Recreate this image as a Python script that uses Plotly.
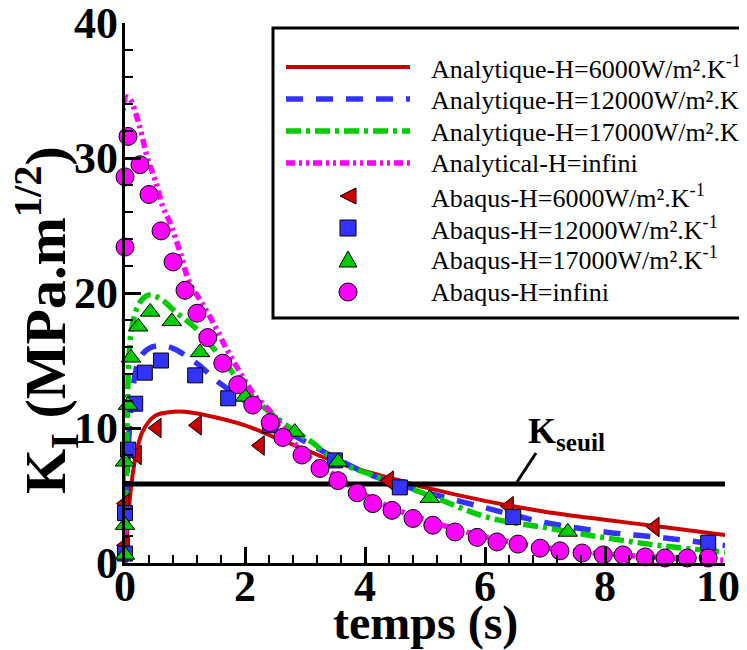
import plotly.graph_objects as go

# ---------------- data ----------------
# Analytical curves
t_ana_6000 = [0, 0.05, 0.1, 0.2, 0.3, 0.5, 0.8, 1.0, 1.5, 2.0, 2.5, 3.0, 3.5, 4.0, 4.5, 5.0, 6.0, 7.0, 8.0, 9.0, 10.0]
k_ana_6000 = [0, 3.0, 5.6, 8.4, 9.8, 10.9, 11.2, 11.2, 10.8, 10.2, 9.3, 8.4, 7.5, 6.8, 6.2, 5.6, 4.6, 3.8, 3.2, 2.65, 2.07]

t_ana_12000 = [0, 0.03, 0.08, 0.15, 0.25, 0.4, 0.6, 0.8, 1.0, 1.25, 1.5, 2.0, 2.5, 3.0, 3.5, 4.0, 4.5, 5.0, 6.0, 7.0, 8.0, 9.0, 10.0]
k_ana_12000 = [0, 6.0, 10.4, 13.5, 15.2, 15.9, 16.1, 15.9, 15.4, 14.6, 13.6, 12.0, 10.3, 9.0, 7.8, 6.7, 5.9, 5.25, 4.1, 3.0, 2.3, 1.85, 1.3]

t_ana_17000 = [0, 0.03, 0.07, 0.11, 0.2, 0.3, 0.4, 0.58, 0.87, 1.2, 1.53, 1.87, 2.25, 2.75, 3.13, 3.5, 4.13, 5.08, 6.03, 7.03, 8.03, 8.97, 10.0]
k_ana_17000 = [0, 9.0, 15.6, 17.3, 18.9, 19.6, 19.85, 19.6, 18.5, 17.3, 15.6, 13.7, 11.8, 10.0, 8.9, 7.6, 6.5, 5.0, 3.4, 2.6, 1.85, 1.26, 0.8]

t_ana_inf = [0, 0.02, 0.08, 0.2, 0.28, 0.38, 0.5, 0.63, 0.75, 0.92, 1.08, 1.25, 1.47, 1.7, 1.92, 2.13, 2.47, 2.92, 3.37, 3.97, 4.5, 5.08, 5.6, 6.2, 7.3, 8.4, 10.0]
k_ana_inf = [0, 34.5, 34.4, 33.0, 31.7, 29.9, 28.4, 26.4, 25.2, 23.0, 20.7, 19.5, 17.8, 15.8, 14.1, 12.6, 11.0, 8.4, 6.9, 5.1, 4.0, 3.1, 2.4, 1.75, 0.96, 0.55, 0.2]

# Abaqus results
t_abq_6000 = [0, 0, 0.2, 0.53, 1.2, 2.25, 4.4, 6.4, 8.83]
k_abq_6000 = [1.3, 4.4, 8.0, 10.0, 10.2, 8.7, 6.1, 4.2, 2.67]

t_abq_12000 = [0, 0, 0.05, 0.17, 0.33, 0.6, 1.17, 1.72, 2.42, 3.5, 4.58, 6.47, 9.72]
k_abq_12000 = [0.7, 3.7, 8.4, 11.8, 14.1, 15.0, 13.9, 12.2, 10.2, 7.6, 5.6, 3.4, 1.5]

t_abq_17000 = [0, 0, 0, 0.05, 0.1, 0.22, 0.42, 0.78, 1.25, 2.0, 2.83, 3.55, 5.08, 7.38]
k_abq_17000 = [0.6, 2.8, 7.5, 11.7, 15.2, 17.5, 18.6, 17.9, 15.6, 12.3, 9.7, 7.5, 4.8, 2.3]

t_abq_inf = [0, 0, 0.05, 0.25, 0.4, 0.6, 0.8, 1.0, 1.2, 1.38, 1.63, 1.88, 2.13, 2.42, 2.63, 2.95, 3.25, 3.55,
             3.87, 4.13, 4.45, 4.8, 5.13, 5.5, 5.87, 6.2, 6.55, 6.92, 7.25, 7.62, 7.97, 8.3, 8.67, 9.0, 9.37, 9.72]
k_abq_inf = [23.4, 28.6, 31.6, 29.5, 27.3, 24.6, 22.3, 20.2, 18.5, 16.7, 14.8, 13.2, 11.7, 10.4, 9.3, 8.0, 7.0, 6.1,
             5.2, 4.4, 3.9, 3.3, 2.8, 2.3, 1.9, 1.56, 1.4, 1.1, 0.9, 0.74, 0.6, 0.6, 0.45, 0.37, 0.37, 0.37]

K_SEUIL = 5.85
t_seuil = [0, 10]

names = [
    "Analytique-H=6000W/m².K<sup>-1</sup>",
    "Analytique-H=12000W/m².K<sup>-1</sup>",
    "Analytique-H=17000W/m².K<sup>-1</sup>",
    "Analytical-H=infini",
    "Abaqus-H=6000W/m².K<sup>-1</sup>",
    "Abaqus-H=12000W/m².K<sup>-1</sup>",
    "Abaqus-H=17000W/m².K<sup>-1</sup>",
    "Abaqus-H=infini",
]

x_ticks = [0, 2, 4, 6, 8, 10]
y_ticks = [0, 10, 20, 30, 40]
x_title = "temps (s)"
y_title = "K<sub>I</sub> (MPa.m<sup>1/2</sup>)"

# ---------------- style ----------------
RED, BLUE, GREEN, MAG = "#CC0000", "#3333FF", "#00CC00", "#FF00FF"
SERIF = "Liberation Serif"
OFF = 8                      # default page body margin
W, H = 747 - OFF, 650 - OFF
ML, MT = 125 - OFF, 23 - OFF
PW, PH = 600, 540
MR, MB = W - ML - PW, H - MT - PH

def px(x):  # page pixel -> paper x
    return (x - OFF - ML) / PW

def py(y):  # page pixel -> paper y
    return (MT + PH - (y - OFF)) / PH

line_styles = [
    dict(color=RED, width=4, dash="solid"),
    dict(color=BLUE, width=5.5, dash="17px,13px"),
    dict(color=GREEN, width=5.5, dash="15px,5px,4px,5px"),
    dict(color=MAG, width=5.5, dash="9px,4px,3px,4px,3px,4px"),
]
marker_styles = [
    dict(symbol="triangle-left", size=17, color=RED, line=dict(color="black", width=1)),
    dict(symbol="square", size=15, color=BLUE, line=dict(color="black", width=1)),
    dict(symbol="triangle-up", size=17, color=GREEN, line=dict(color="black", width=1)),
    dict(symbol="circle", size=18, color=MAG, line=dict(color="black", width=1)),
]

fig = go.Figure()
ana = [(t_ana_6000, k_ana_6000), (t_ana_12000, k_ana_12000), (t_ana_17000, k_ana_17000), (t_ana_inf, k_ana_inf)]
abq = [(t_abq_6000, k_abq_6000), (t_abq_12000, k_abq_12000), (t_abq_17000, k_abq_17000), (t_abq_inf, k_abq_inf)]

for i, (t, k) in enumerate(ana):
    fig.add_trace(go.Scatter(x=t, y=k, mode="lines", line=line_styles[i], line_shape="spline",
                             name=names[i], showlegend=False, cliponaxis=False))

fig.add_trace(go.Scatter(x=t_seuil, y=[K_SEUIL] * len(t_seuil), mode="lines",
                         line=dict(color="black", width=5), showlegend=False, cliponaxis=False))

for i, (t, k) in enumerate(abq):
    fig.add_trace(go.Scatter(x=t, y=k, mode="markers", marker=marker_styles[i],
                             name=names[4 + i], showlegend=False, cliponaxis=False))

# ---------------- custom legend ----------------
shapes = []
annotations = []
shapes.append(dict(type="rect", xref="paper", yref="paper", x0=px(273), x1=px(770), y0=py(318), y1=py(28),
                   line=dict(color="black", width=3), fillcolor="white", layer="above"))
row_y = [67, 99, 131, 163, 196, 228, 259, 292]
for i in range(4):
    st = line_styles[i]
    shapes.append(dict(type="line", xref="paper", yref="paper", x0=px(286), x1=px(410),
                       y0=py(row_y[i]), y1=py(row_y[i]),
                       line=dict(color=st["color"], width=st["width"], dash=st["dash"]), layer="above"))
mx = 348
for i in range(4):
    yc = row_y[4 + i]
    col = marker_styles[i]["color"]
    if i == 0:
        path = f"M {px(mx-8)} {py(yc)} L {px(mx+8)} {py(yc-8)} L {px(mx+8)} {py(yc+8)} Z"
        shapes.append(dict(type="path", xref="paper", yref="paper", path=path, fillcolor=col,
                           line=dict(color="black", width=1), layer="above"))
    elif i == 1:
        shapes.append(dict(type="rect", xref="paper", yref="paper", x0=px(mx-8), x1=px(mx+8),
                           y0=py(yc+8), y1=py(yc-8), fillcolor=col, line=dict(color="black", width=1), layer="above"))
    elif i == 2:
        path = f"M {px(mx-9)} {py(yc+8)} L {px(mx+9)} {py(yc+8)} L {px(mx)} {py(yc-8)} Z"
        shapes.append(dict(type="path", xref="paper", yref="paper", path=path, fillcolor=col,
                           line=dict(color="black", width=1), layer="above"))
    else:
        shapes.append(dict(type="circle", xref="paper", yref="paper", x0=px(mx-9), x1=px(mx+9),
                           y0=py(yc+9), y1=py(yc-9), fillcolor=col, line=dict(color="black", width=1), layer="above"))
for i, nm in enumerate(names):
    annotations.append(dict(xref="paper", yref="paper", x=px(429), y=py(row_y[i]), text=nm, showarrow=False,
                            xanchor="left", yanchor="middle", font=dict(family=SERIF, size=26, color="black")))

# K seuil label
shapes.append(dict(type="line", xref="paper", yref="paper", x0=px(517), y0=py(482), x1=px(536), y1=py(453),
                   line=dict(color="black", width=3)))
annotations.append(dict(xref="paper", yref="paper", x=px(526), y=py(433), text="<b>K<sub>seuil</sub></b>",
                        showarrow=False, xanchor="left", yanchor="middle",
                        font=dict(family=SERIF, size=36, color="black")))

# tick labels placed on the axes' own scales
TICK_FONT = dict(family=SERIF, size=44, color="black")
for v in x_ticks:
    annotations.append(dict(xref="x", yref="paper", x=v, y=py(586), text=f"<b>{v}</b>", showarrow=False,
                            xanchor="center", yanchor="middle", font=TICK_FONT,
                            xshift=-7 if v == x_ticks[-1] else 0))
for v in y_ticks:
    annotations.append(dict(xref="paper", yref="y", x=px(120), y=v, text=f"<b>{v}</b>", showarrow=False,
                            xanchor="right", yanchor="middle", font=TICK_FONT))

# axis titles
annotations.append(dict(xref="paper", yref="paper", x=px(425), y=py(623), text=f"<b>{x_title}</b>",
                        showarrow=False, xanchor="center", yanchor="middle",
                        font=dict(family=SERIF, size=48, color="black")))
annotations.append(dict(xref="paper", yref="paper", x=px(46), y=py(320), text=f"<b>{y_title}</b>",
                        showarrow=False, xanchor="center", yanchor="middle", textangle=-90,
                        font=dict(family=SERIF, size=58, color="black")))

fig.update_layout(
    width=W, height=H,
    margin=dict(l=ML, r=MR, t=MT, b=MB),
    paper_bgcolor="white", plot_bgcolor="white",
    showlegend=False,
    shapes=shapes, annotations=annotations,
    xaxis=dict(range=[0, 10], tickvals=x_ticks, showticklabels=False, automargin=False,
               showline=True, linecolor="black", linewidth=3, showgrid=False, zeroline=False,
               ticks="inside", ticklen=16, tickwidth=3, tickcolor="black",
               minor=dict(dtick=0.4, ticks="inside", ticklen=8, tickwidth=1.5, tickcolor="black", showgrid=False)),
    yaxis=dict(range=[0, 40], tickvals=y_ticks, showticklabels=False, automargin=False,
               showline=True, linecolor="black", linewidth=3, showgrid=False, zeroline=False,
               ticks="inside", ticklen=16, tickwidth=3, tickcolor="black",
               minor=dict(dtick=2, ticks="inside", ticklen=8, tickwidth=1.5, tickcolor="black", showgrid=False)),
)

fig.write_html("out.html")
